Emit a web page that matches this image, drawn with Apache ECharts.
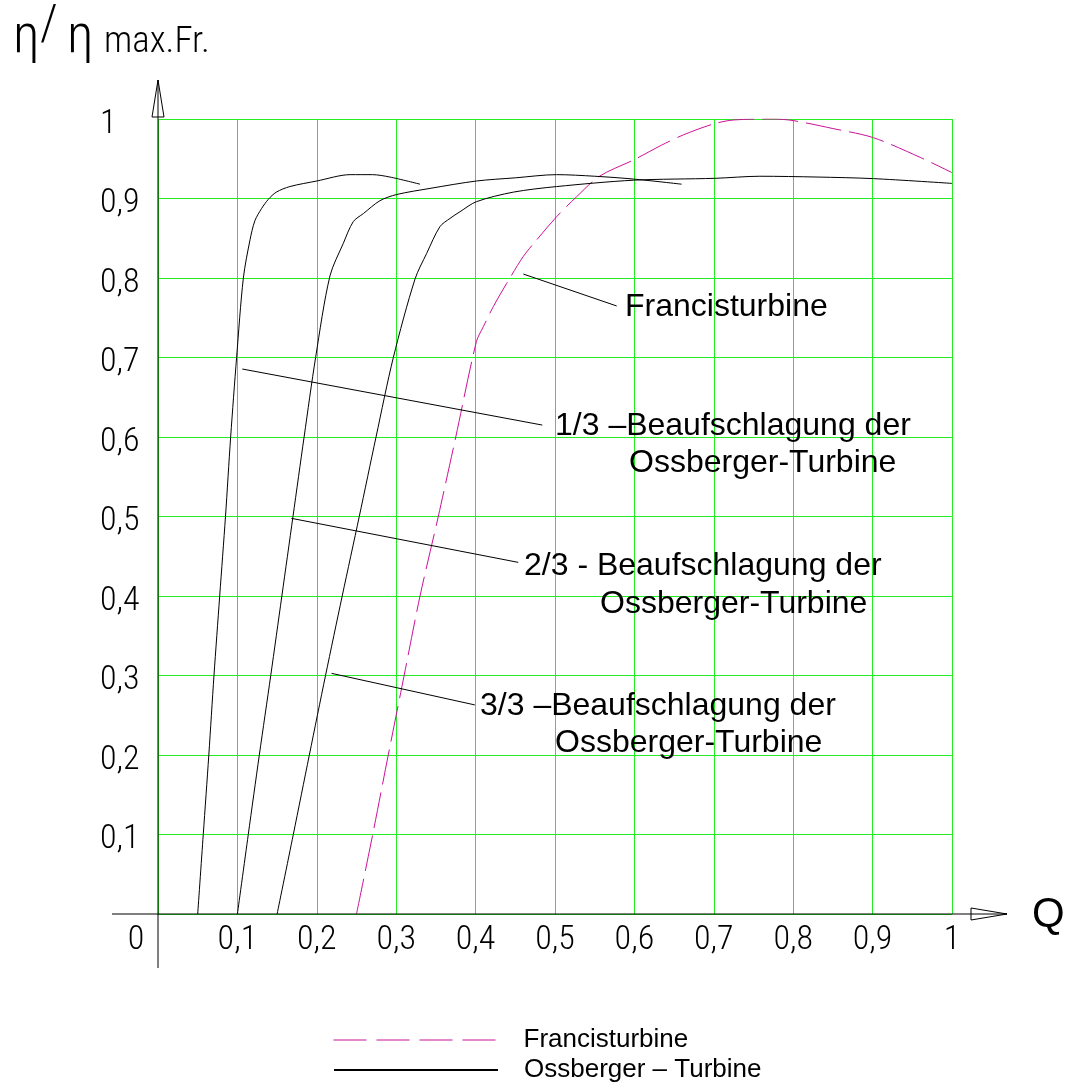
<!DOCTYPE html>
<html><head><meta charset="utf-8">
<script src="https://cdn.jsdelivr.net/npm/echarts@6/dist/echarts.min.js"></script>
<style>html,body{margin:0;padding:0;background:#fff}#c{width:1068px;height:1084px}</style>
</head><body><div id="c"></div>
<script>
// ---- data ----
const xTicks = [0, 0.1, 0.2, 0.3, 0.4, 0.5, 0.6, 0.7, 0.8, 0.9, 1];
const yTicks = [0, 0.1, 0.2, 0.3, 0.4, 0.5, 0.6, 0.7, 0.8, 0.9, 1];
const ossberger13 = [[0.05,0],[0.057,0.1],[0.064,0.2],[0.0705,0.3],[0.0777,0.4],[0.085,0.5],[0.0915,0.6],[0.099,0.7],[0.1075,0.8],[0.1159,0.848],[0.122,0.872],[0.1306,0.8876],[0.139,0.899],[0.149,0.908],[0.166,0.915],[0.2,0.922],[0.242,0.93],[0.27,0.93],[0.292,0.927],[0.33,0.918]];
const ossberger23 = [[0.1,0],[0.1137,0.1],[0.1276,0.2],[0.142,0.3],[0.156,0.4],[0.17,0.5],[0.184,0.6],[0.1985,0.7],[0.2166,0.8027],[0.2334,0.8436],[0.246,0.871],[0.2586,0.881],[0.2796,0.8973],[0.3006,0.905],[0.3426,0.9127],[0.401,0.922],[0.45,0.926],[0.502,0.93],[0.55,0.928],[0.5986,0.9245],[0.6595,0.918]];
const ossberger33 = [[0.15,0],[0.1704,0.1],[0.1906,0.2],[0.211,0.3],[0.232,0.4],[0.2535,0.5],[0.2746,0.6],[0.2964,0.7],[0.3237,0.7987],[0.3384,0.831],[0.355,0.8645],[0.3678,0.875],[0.3804,0.8834],[0.401,0.896],[0.4475,0.908],[0.502,0.915],[0.5986,0.923],[0.7015,0.9254],[0.758,0.928],[0.83,0.927],[0.901,0.925],[1.0,0.919]];
const francis = [[0.25,0],[0.2704,0.1],[0.29,0.2],[0.31,0.3],[0.33,0.4],[0.353,0.5],[0.375,0.6],[0.401,0.72],[0.4097,0.7387],[0.4223,0.764],[0.439,0.793],[0.46,0.827],[0.477,0.848],[0.502,0.877],[0.527,0.902],[0.556,0.928],[0.6,0.949],[0.634,0.967],[0.6616,0.98],[0.6994,0.9937],[0.7246,0.9987],[0.775,1.0],[0.8,0.998],[0.85,0.988],[0.901,0.9765],[0.96,0.9517],[1.0,0.9325]];
const leaderFrancis = [[0.4601,0.805],[0.5777,0.7648]];
const leader13 = [[0.1062,0.6855],[0.484,0.615]];
const leader23 = [[0.168,0.4977],[0.4537,0.4423]];
const leader33 = [[0.2186,0.3027],[0.399,0.263]];
const legendNames = ['Francisturbine', 'Ossberger – Turbine'];
const annotationTexts = ['Francisturbine', '1/3 –Beaufschlagung der', 'Ossberger-Turbine', '2/3 - Beaufschlagung der', 'Ossberger-Turbine', '3/3 –Beaufschlagung der', 'Ossberger-Turbine'];

// ---- styles ----
const GREEN = '#22ee22';
const PINK = '#cc1199';
const TICKFONT = "'Roboto Condensed', Roboto, 'DejaVu Sans', sans-serif";
const SANS = "'Liberation Sans', Arial, sans-serif";

const fmt = v => v === 0 ? '0' : (Math.abs(v - 1) < 1e-9 ? '1' : v.toFixed(1).replace('.', ','));
const tickRich = {fontFamily:TICKFONT, fontWeight:300, fontSize:34, color:'#000'};

const chart = echarts.init(document.getElementById('c'));

function curve(name, data, color, type) {
  return {type:'line', name, data, symbol:'none', showSymbol:false, smooth:0.3,
    lineStyle:{color, width:1, type}, itemStyle:{color}, silent:true, z:3, emphasis:{disabled:true}};
}
function leader(name, data) {
  return {type:'line', name, data, symbol:'none', showSymbol:false, smooth:false,
    lineStyle:{color:'#000', width:1}, itemStyle:{color:'#000'}, silent:true, z:3};
}
function legendBox(name, top, lineStyle) {
  return {orient:'vertical', left:333, top, padding:0, itemWidth:164, itemHeight:14, itemGap:0,
    selectedMode:false, itemStyle:{opacity:0},
    textStyle:{fontFamily:SANS, fontSize:26, color:'#000', lineHeight:30, padding:[0,0,0,21]},
    data:[Object.assign({name}, lineStyle ? {lineStyle} : {})]};
}

const option = {
  animation:false,
  backgroundColor:'#fff',
  grid:{left:158, top:119, right:116, bottom:170, outerBoundsMode:'none', containLabel:false},
  xAxis:{type:'value', min:xTicks[0], max:xTicks[xTicks.length-1], interval:0.1,
    axisLine:{show:false}, axisTick:{show:false},
    splitLine:{show:true, lineStyle:{color:GREEN, width:1}},
    axisLabel:{show:true, margin:26, verticalAlign:'middle', color:'#000',
      fontFamily:TICKFONT, fontWeight:300, fontSize:34,
      formatter: v => v === 0 ? '{z|0}' : fmt(v),
      rich:{z:Object.assign({padding:[0,44,0,0]}, tickRich)}}},
  yAxis:{type:'value', min:yTicks[0], max:yTicks[yTicks.length-1], interval:0.1,
    axisLine:{show:false}, axisTick:{show:false},
    splitLine:{show:true, lineStyle:{color:GREEN, width:1}},
    axisLabel:{show:true, margin:58, align:'left', verticalAlign:'middle', color:'#000',
      fontFamily:TICKFONT, fontWeight:300, fontSize:34,
      formatter: v => v === 0 ? '' : '{d|' + fmt(v) + '}',
      rich:{d:Object.assign({padding:[10,0,0,0]}, tickRich)}}},
  legend:[
    legendBox(legendNames[0], 1025, {type:[33,10], color:PINK, width:1}),
    legendBox(legendNames[1], 1055, null)
  ],
  series:[
    curve(legendNames[0], francis, PINK, [36,8]),
    curve(legendNames[1], ossberger13, '#000', 'solid'),
    curve(legendNames[1], ossberger23, '#000', 'solid'),
    curve(legendNames[1], ossberger33, '#000', 'solid'),
    leader('lf', leaderFrancis), leader('l13', leader13), leader('l23', leader23), leader('l33', leader33)
  ]
};
chart.setOption(option);

const o = chart.convertToPixel({gridIndex:0}, [0,0]);
const ox = o[0], oy = o[1];
function txt(text, x, y, size, font, weight) {
  return {type:'text', x, y, silent:true, z:10,
    style:{text, fill:'#000', font: (weight ? weight + ' ' : '') + size + 'px ' + font, align:'left', verticalAlign:'middle'}};
}
chart.setOption({graphic:[
  {type:'line', silent:true, z:10, shape:{x1:ox, y1:oy+54, x2:ox, y2:80}, style:{stroke:'#000', lineWidth:1}},
  {type:'polygon', silent:true, z:10, shape:{points:[[ox,80],[ox-6,117],[ox+6,117]]}, style:{stroke:'#000', fill:'#fff', lineWidth:1}},
  {type:'line', silent:true, z:11, shape:{x1:ox, y1:80, x2:ox, y2:117}, style:{stroke:'#000', lineWidth:1}},
  {type:'line', silent:true, z:10, shape:{x1:ox-46, y1:oy, x2:1007, y2:oy}, style:{stroke:'#000', lineWidth:1}},
  {type:'polygon', silent:true, z:10, shape:{points:[[1007,oy],[971,oy-6],[971,oy+6]]}, style:{stroke:'#000', fill:'#fff', lineWidth:1}},
  {type:'line', silent:true, z:11, shape:{x1:971, y1:oy, x2:1007, y2:oy}, style:{stroke:'#000', lineWidth:1}},
  txt('Q', 1032, oy+1, 42, SANS),
  txt('η', 13, 38, 54, TICKFONT, 300),
  txt('/', 40, 27, 50, TICKFONT, 300),
  txt('η', 67, 38, 54, TICKFONT, 300),
  txt('max.Fr.', 104, 43, 37, TICKFONT, 300),
  txt(annotationTexts[0], 625, 307, 32, SANS),
  txt(annotationTexts[1], 555, 426, 32, SANS),
  txt(annotationTexts[2], 629, 463, 32, SANS),
  txt(annotationTexts[3], 524, 566, 32, SANS),
  txt(annotationTexts[4], 600, 604, 32, SANS),
  txt(annotationTexts[5], 480, 706, 32, SANS),
  txt(annotationTexts[6], 555, 743, 32, SANS)
]});
</script></body></html>
